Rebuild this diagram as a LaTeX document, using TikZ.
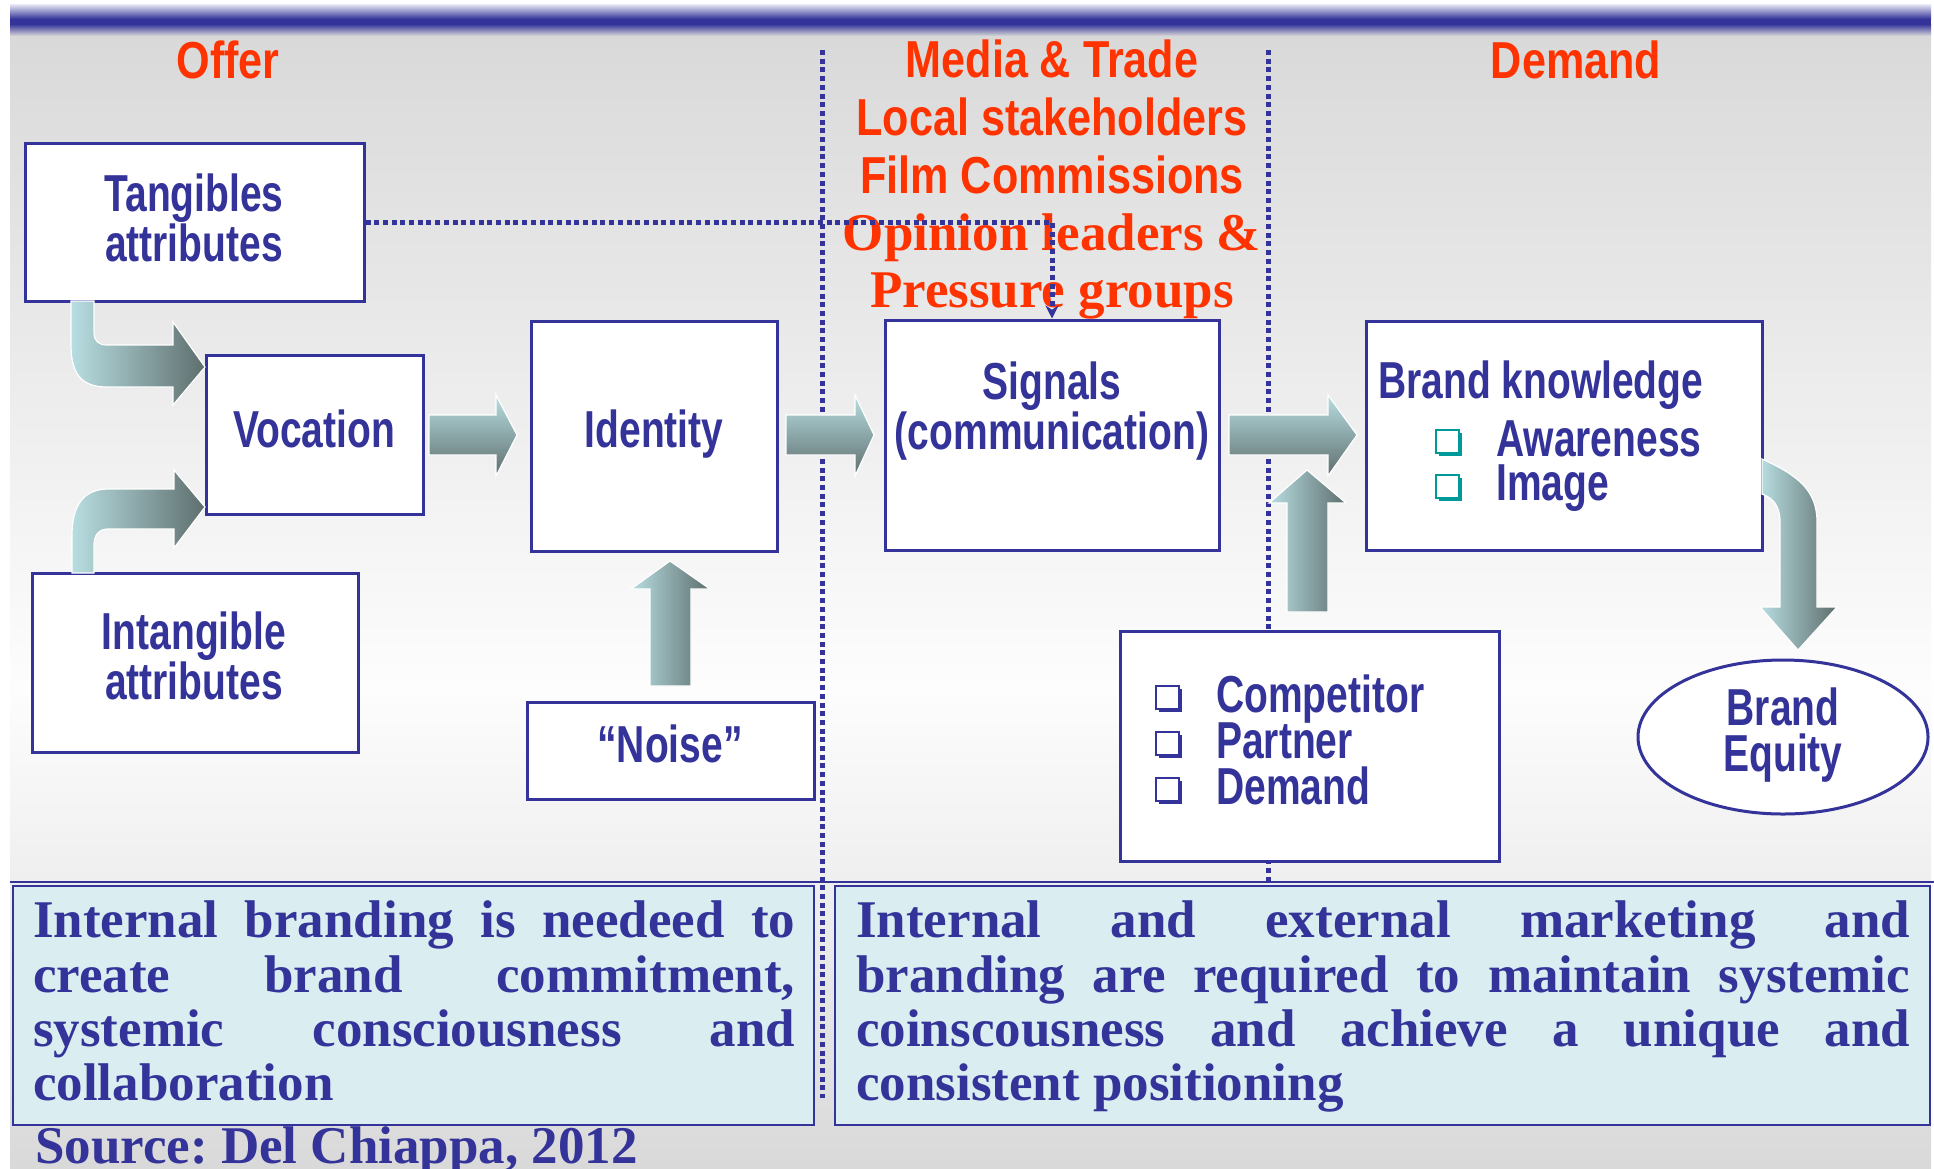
\documentclass[tikz,border=0pt]{standalone}
\usepackage{fontspec}
\usetikzlibrary{arrows.meta,shapes.geometric,shadows}
\setmainfont{Liberation Serif}
\newfontfamily\boxfont[FakeStretch=0.75]{Liberation Sans}
\newfontfamily\headfont[FakeStretch=0.83]{Liberation Sans}
\definecolor{ink}{HTML}{333399}
\definecolor{hdred}{HTML}{FF3300}
\definecolor{bulletteal}{HTML}{009999}
\definecolor{arrlight}{HTML}{B8DEE1}
\definecolor{arrdark}{HTML}{5E6E6E}
\definecolor{panel}{HTML}{DAEDF0}
\definecolor{bggray}{HTML}{D9D9D9}
\definecolor{bglight}{HTML}{FDFDFD}
\frenchspacing
\begin{document}
\begin{tikzpicture}[x=1pt,y=-1pt,
  box/.style={draw=ink, line width=3pt, fill=white, rectangle, inner sep=0pt},
  panelbox/.style={draw=ink, line width=2.5pt, fill=panel, rectangle, inner sep=0pt},
  lbl/.style={text=ink, inner sep=0pt, align=center,
    font=\boxfont\bfseries\fontsize{52}{46}\selectfont},
  hd/.style={text=hdred, inner sep=0pt, anchor=base,
    font=\headfont\bfseries\fontsize{52}{58}\selectfont},
  hdserif/.style={text=hdred, inner sep=0pt, anchor=base,
    font=\rmfamily\bfseries\fontsize{53}{58}\selectfont},
  bulsq/.style={rectangle, inner sep=0pt, minimum size=23pt, draw=#1, line width=2pt,
    fill=white, drop shadow={shadow xshift=3.5pt, shadow yshift=-3.5pt, fill=#1, opacity=1}},
  para/.style={text=ink, inner sep=0pt, anchor=north west, align=left,
    font=\rmfamily\bfseries\fontsize{53}{54.3}\selectfont},
  dotline/.style={ink, line width=5pt, dash pattern=on 5pt off 3.7pt},
  harrow/.style={draw=white, line width=1.2pt, top color=arrlight, bottom color=arrdark},
  varrow/.style={draw=white, line width=1.2pt, left color=arrlight, right color=arrdark},
]
\useasboundingbox (0,0) rectangle (1934,1168);
\fill[white] (0,0) rectangle (1934,1168);

% slide background
\fill[top color=bggray, bottom color=bglight] (10,36) rectangle (1931,690);
\fill[top color=bglight, bottom color=bggray] (10,690) rectangle (1931,1168);

% title band
\fill[top color=white!90!ink, bottom color=ink] (10,4) rectangle (1931,19);
\fill[ink] (10,19) rectangle (1931,24);
\fill[top color=ink, bottom color=bggray] (10,24) rectangle (1931,36);

% section separators
\coordinate (sepAtop) at (822,50);
\coordinate (sepAbot) at (822,1098);
\coordinate (sepBtop) at (1268,50);
\coordinate (sepBbot) at (1268,882);
\draw[dotline] (sepAtop) -- (sepAbot);
\draw[dotline] (sepBtop) -- (sepBbot);

% rule above the two summary panels
\coordinate (ruleL) at (10,882);
\coordinate (ruleR) at (1934,882);
\draw[ink, line width=2pt] (ruleL) -- (ruleR);

% boxes
\node[box, minimum width=339pt, minimum height=158pt] (tang) at (194.5,222) {};
\node[box, minimum width=217pt, minimum height=159pt] (voc) at (314.5,434.5) {};
\node[box, minimum width=326pt, minimum height=179pt] (intang) at (195,663) {};
\node[box, minimum width=246pt, minimum height=230pt] (ident) at (654,436) {};
\node[box, minimum width=287pt, minimum height=97pt] (noise) at (670.5,750.5) {};
\node[box, minimum width=334pt, minimum height=230pt] (sig) at (1052,435) {};
\node[box, minimum width=396pt, minimum height=229pt] (bk) at (1564,435.5) {};
\node[box, minimum width=379pt, minimum height=230pt] (comp) at (1309.5,746) {};
\node[draw=ink, line width=3pt, fill=white, ellipse, inner sep=0pt,
      minimum width=290pt, minimum height=154pt] (equity) at (1783,737) {};

% summary panels
\node[panelbox, minimum width=801pt, minimum height=239pt] (panL) at (413.5,1005.5) {};
\node[panelbox, minimum width=1095pt, minimum height=239pt] (panR) at (1382.5,1005.5) {};

% block arrows
\draw[varrow] (71,301) -- (71,345) .. controls (71,372) and (80,387) .. (107,387)
  -- (173,387) -- (173,405) -- (205,367) -- (173,322) -- (173,345) -- (107,345)
  .. controls (99,345) and (94,341) .. (94,333) -- (94,301) -- cycle;
\draw[varrow] (72,573) -- (72,535) .. controls (72,505) and (84,489) .. (108,489)
  -- (174,489) -- (174,470) -- (205,507) -- (174,548) -- (174,529) -- (108,529)
  .. controls (99,529) and (94,535) .. (94,545) -- (94,573) -- cycle;
\draw[harrow] (429,415) -- (496,415) -- (496,395) -- (517,435) -- (496,476)
  -- (496,455) -- (429,455) -- cycle;
\draw[harrow] (786,415) -- (855,415) -- (855,395) -- (874,435) -- (855,476)
  -- (855,455) -- (786,455) -- cycle;
\draw[varrow] (650,686) -- (650,589) -- (631,589) -- (670,561) -- (710,589)
  -- (691,589) -- (691,686) -- cycle;
\draw[varrow] (1287,612) -- (1287,503) -- (1269,503) -- (1307,470) -- (1346,503)
  -- (1328,503) -- (1328,612) -- cycle;
\draw[harrow] (1229,415) -- (1328,415) -- (1328,395) -- (1357,435) -- (1328,476)
  -- (1328,455) -- (1229,455) -- cycle;
\draw[varrow] (1762,459) .. controls (1800,476) and (1817,492) .. (1817,522)
  -- (1817,607) -- (1837,607) -- (1798,650) -- (1760,607) -- (1780,607)
  -- (1780,522) .. controls (1780,506) and (1773,498) .. (1762,494) -- cycle;

% box labels
\node[lbl, anchor=north] (tangt) at (194,174) {Tangibles\\attributes};
\node[lbl, anchor=base] (voct) at (314,447) {Vocation};
\node[lbl, anchor=base] (identt) at (654,447) {Identity};
\node[lbl, anchor=north] (sigt) at (1052,362) {Signals\\(communication)};
\node[lbl, anchor=base] (noiset) at (670,762) {“Noise”};
\node[lbl, anchor=north] (intangt) at (194,612) {Intangible\\attributes};
\node[lbl, anchor=north] (equityt) at (1783,688) {Brand\\Equity};

\node[lbl, anchor=base west] (bkt) at (1378,398) {Brand knowledge};
\node[bulsq=bulletteal] (bkb1) at (1447,441) {};
\node[bulsq=bulletteal] (bkb2) at (1447,486) {};
\node[lbl, anchor=base west] (bkt1) at (1496,456) {Awareness};
\node[lbl, anchor=base west] (bkt2) at (1496,500) {Image};

\node[bulsq=ink] (cb1) at (1167,697) {};
\node[bulsq=ink] (cb2) at (1167,743) {};
\node[bulsq=ink] (cb3) at (1167,789) {};
\node[lbl, anchor=base west] (ct1) at (1216,712) {Competitor};
\node[lbl, anchor=base west] (ct2) at (1216,758) {Partner};
\node[lbl, anchor=base west] (ct3) at (1216,804) {Demand};

% section headings
\node[hd] (offer) at (228,78) {Offer};
\node[hd] (media1) at (1052,77) {Media \& Trade};
\node[hd] (media2) at (1052,135) {Local stakeholders};
\node[hd] (media3) at (1052,193) {Film Commissions};
\node[hdserif] (media4) at (1052,250) {Opinion leaders \&};
\node[hdserif] (media5) at (1052,307) {Pressure groups};
\node[hd] (demand) at (1576,78) {Demand};

% link from tangible attributes to the signals
\draw[dotline, -{Stealth[length=13pt,width=13pt]}] (tang.east) -| (sig.north);

% summary texts
\node[para] (panLt) at (33,901) {%
\makebox[762pt][s]{Internal branding is needeed to}\\
\makebox[762pt][s]{create brand commitment,}\\
\makebox[762pt][s]{systemic consciousness and}\\
collaboration};
\node[para] (panRt) at (856,901) {%
\makebox[1054pt][s]{Internal and external marketing and}\\
\makebox[1054pt][s]{branding are required to maintain systemic}\\
\makebox[1054pt][s]{coinscousness and achieve a unique and}\\
consistent positioning};

\node[text=ink, inner sep=0pt, anchor=base west,
      font=\rmfamily\bfseries\fontsize{53}{54}\selectfont] (source) at (35,1163)
  {Source: Del Chiappa, 2012};
\end{tikzpicture}
\end{document}
